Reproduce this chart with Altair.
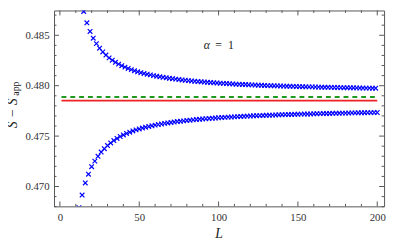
import altair as alt
import pandas as pd

# ---------------- data ----------------
L_upper = list(range(13, 200, 2))
S_upper = [0.48890, 0.48736, 0.48624, 0.48538, 0.48471, 0.48417, 0.48372, 0.48335,
           0.48304, 0.48276, 0.48253, 0.48232, 0.48214, 0.48198, 0.48184, 0.48171,
           0.48159, 0.48148, 0.48138, 0.48129, 0.48121, 0.48114, 0.48107, 0.48100,
           0.48094, 0.48088, 0.48083, 0.48078, 0.48073, 0.48069, 0.48065, 0.48061,
           0.48057, 0.48054, 0.48050, 0.48047, 0.48044, 0.48041, 0.48039, 0.48036,
           0.48034, 0.48031, 0.48029, 0.48027, 0.48025, 0.48023, 0.48021, 0.48019,
           0.48017, 0.48015, 0.48014, 0.48012, 0.48011, 0.48009, 0.48008, 0.48006,
           0.48005, 0.48004, 0.48002, 0.48001, 0.48000, 0.47999, 0.47998, 0.47997,
           0.47996, 0.47995, 0.47994, 0.47993, 0.47992, 0.47991, 0.47990, 0.47989,
           0.47988, 0.47988, 0.47987, 0.47986, 0.47985, 0.47984, 0.47984, 0.47983,
           0.47982, 0.47982, 0.47981, 0.47980, 0.47980, 0.47979, 0.47979, 0.47978,
           0.47977, 0.47977, 0.47976, 0.47976, 0.47975, 0.47975]

L_lower = list(range(12, 201, 2))
S_lower = [0.46790, 0.46915, 0.47035, 0.47122, 0.47196, 0.47252, 0.47300, 0.47342,
           0.47375, 0.47406, 0.47432, 0.47456, 0.47477, 0.47496, 0.47511, 0.47526,
           0.47539, 0.47551, 0.47562, 0.47571, 0.47580, 0.47588, 0.47595, 0.47602,
           0.47609, 0.47615, 0.47620, 0.47626, 0.47630, 0.47635, 0.47639, 0.47644,
           0.47647, 0.47651, 0.47655, 0.47658, 0.47661, 0.47664, 0.47667, 0.47670,
           0.47672, 0.47675, 0.47677, 0.47679, 0.47682, 0.47684, 0.47686, 0.47688,
           0.47689, 0.47691, 0.47693, 0.47695, 0.47696, 0.47698, 0.47699, 0.47701,
           0.47702, 0.47703, 0.47705, 0.47706, 0.47707, 0.47708, 0.47710, 0.47711,
           0.47712, 0.47713, 0.47714, 0.47715, 0.47716, 0.47717, 0.47718, 0.47719,
           0.47719, 0.47720, 0.47721, 0.47722, 0.47723, 0.47724, 0.47724, 0.47725,
           0.47726, 0.47726, 0.47727, 0.47728, 0.47728, 0.47729, 0.47730, 0.47730,
           0.47731, 0.47731, 0.47732, 0.47733, 0.47733, 0.47734, 0.47734]

line_L = [1, 200]
green_level = 0.47887
red_level = 0.47852

x_major = [0, 50, 100, 150, 200]
x_minor = [v for v in range(10, 200, 10) if v % 50 != 0]
y_major = [0.470, 0.475, 0.480, 0.485]
y_minor = [0.468, 0.469, 0.471, 0.472, 0.473, 0.474, 0.476, 0.477, 0.478,
           0.479, 0.481, 0.482, 0.483, 0.484, 0.486, 0.487]

note_L = [100]
note_S = [0.484]

# ---------------- layout ----------------
W, H = 337, 200
FRAME = "#555555"
LABEL = "#333333"
SERIF = "'Liberation Serif', 'Times New Roman', 'DejaVu Serif', serif"

xs = alt.Scale(domain=[-3.7, 204.3], nice=False, zero=False)
ys = alt.Scale(domain=[0.46803, 0.48746], nice=False, zero=False)

pts = pd.DataFrame({"L": L_upper + L_lower, "S": S_upper + S_lower})
lines = pd.DataFrame({"L": line_L * 2,
                      "S": [green_level] * 2 + [red_level] * 2,
                      "k": ["green"] * 2 + ["red"] * 2})

xaxis = alt.Axis(values=x_major, ticks=False, tickSize=0, domain=False, grid=False,
                 labelFont=SERIF, labelFontSize=11, labelColor=LABEL,
                 labelPadding=5, title=None, format="d")
yaxis = alt.Axis(values=y_major, ticks=False, tickSize=0, domain=False, grid=False,
                 labelFont=SERIF, labelFontSize=11, labelColor=LABEL,
                 labelPadding=5, title=None, format=".3f")

cross = "M-1,-1L1,1M-1,1L1,-1"
points = alt.Chart(pts).mark_point(shape=cross, size=22, filled=False,
                                   color="#0000ff", strokeWidth=1.2, opacity=1,
                                   clip=True).encode(
    x=alt.X("L:Q", scale=xs, axis=xaxis),
    y=alt.Y("S:Q", scale=ys, axis=yaxis),
)

green = alt.Chart(lines[lines.k == "green"]).mark_line(
    color="#1f9a1f", strokeWidth=2, strokeDash=[5, 4]).encode(
    x=alt.X("L:Q", scale=xs), y=alt.Y("S:Q", scale=ys))
red = alt.Chart(lines[lines.k == "red"]).mark_line(
    color="#ee2222", strokeWidth=2).encode(
    x=alt.X("L:Q", scale=xs), y=alt.Y("S:Q", scale=ys))


def xticks(vals, length):
    d = pd.DataFrame({"L": vals})
    bot = alt.Chart(d).mark_rule(color=FRAME, strokeWidth=1).encode(
        x=alt.X("L:Q", scale=xs), y=alt.value(H), y2=alt.value(H - length))
    top = alt.Chart(d).mark_rule(color=FRAME, strokeWidth=1).encode(
        x=alt.X("L:Q", scale=xs), y=alt.value(0), y2=alt.value(length))
    return [bot, top]


def yticks(vals, length):
    d = pd.DataFrame({"S": vals})
    left = alt.Chart(d).mark_rule(color=FRAME, strokeWidth=1).encode(
        y=alt.Y("S:Q", scale=ys), x=alt.value(0), x2=alt.value(length))
    right = alt.Chart(d).mark_rule(color=FRAME, strokeWidth=1).encode(
        y=alt.Y("S:Q", scale=ys), x=alt.value(W), x2=alt.value(W - length))
    return [left, right]


ticks = xticks(x_major, 5) + xticks(x_minor, 2.5) + yticks(y_major, 5) + yticks(y_minor, 2.5)

nd = pd.DataFrame({"L": note_L, "S": note_S})
note_a = alt.Chart(nd).mark_text(text="α", font=SERIF, fontStyle="italic", fontSize=12,
                                 color="#222222", dx=-12, baseline="middle").encode(
    x=alt.X("L:Q", scale=xs), y=alt.Y("S:Q", scale=ys))
note_eq = alt.Chart(nd).mark_text(text="=", font=SERIF, fontSize=12,
                                  color="#222222", dx=0, baseline="middle").encode(
    x=alt.X("L:Q", scale=xs), y=alt.Y("S:Q", scale=ys))
note_1 = alt.Chart(nd).mark_text(text="1", font=SERIF, fontSize=12,
                                 color="#222222", dx=12.5, baseline="middle").encode(
    x=alt.X("L:Q", scale=xs), y=alt.Y("S:Q", scale=ys))

xtitle = alt.Chart(nd).mark_text(text="L", font=SERIF, fontStyle="italic", fontSize=14,
                                 color="#222222", baseline="alphabetic").encode(
    x=alt.value(W / 2), y=alt.value(232))
ytitle = alt.Chart(nd).mark_text(text="S − S", font=SERIF, fontStyle="italic", fontSize=14,
                                 color="#222222", angle=270, align="center",
                                 baseline="alphabetic").encode(
    x=alt.value(-38), y=alt.value(105))
ysub = alt.Chart(nd).mark_text(text="app", font=SERIF, fontSize=10,
                               color="#222222", angle=270, align="left",
                               baseline="alphabetic").encode(
    x=alt.value(-35.5), y=alt.value(87))

chart = alt.layer(green, red, points, *ticks, note_a, note_eq, note_1, xtitle, ytitle, ysub).properties(
    width=W, height=H,
    autosize=alt.AutoSizeParams(type="none"),
    padding={"left": 47, "top": 0, "right": 4, "bottom": 41},
).configure_view(stroke=FRAME, strokeWidth=1)

chart.save("out.html", embed_options={"renderer": "svg", "actions": False})
